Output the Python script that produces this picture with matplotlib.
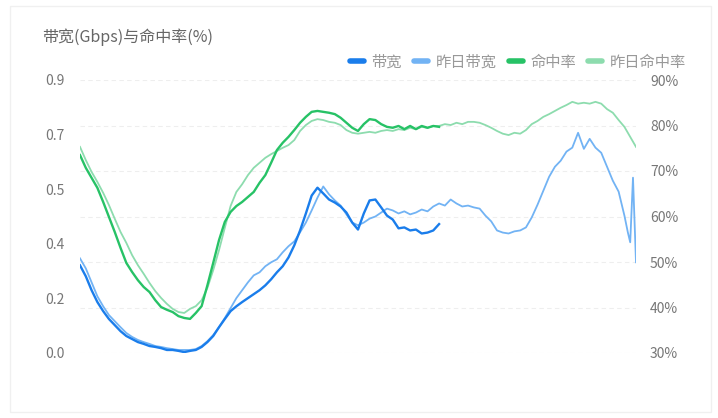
import numpy as np
import matplotlib.pyplot as plt
from matplotlib.lines import Line2D
from matplotlib.patches import Rectangle

plt.rcParams['font.family'] = ['Noto Sans CJK SC', 'DejaVu Sans']

# time of day in hours, 15 min steps
hours_today = np.arange(0, 15.51, 0.25)
hours_yest = list(np.arange(0, 23.51, 0.25)) + [23.65, 23.75, 23.87, 24.0]

# 带宽 (Gbps), today
bw_today = [0.289, 0.253, 0.207, 0.168, 0.138, 0.112, 0.092, 0.072, 0.056, 0.046,
            0.036, 0.030, 0.023, 0.020, 0.016, 0.010, 0.010, 0.007, 0.003, 0.007,
            0.010, 0.020, 0.036, 0.056, 0.085, 0.112, 0.138, 0.154, 0.168, 0.181,
            0.194, 0.207, 0.223, 0.243, 0.266, 0.286, 0.315, 0.355, 0.404, 0.460,
            0.519, 0.545, 0.526, 0.506, 0.496, 0.483, 0.463, 0.430, 0.407, 0.460,
            0.503, 0.506, 0.480, 0.453, 0.440, 0.411, 0.414, 0.404, 0.407, 0.394,
            0.397, 0.404, 0.425]

# 昨日带宽 (Gbps)
bw_yest = [0.312, 0.279, 0.233, 0.187, 0.154, 0.125, 0.105, 0.085, 0.066, 0.053,
           0.043, 0.036, 0.030, 0.023, 0.020, 0.016, 0.013, 0.010, 0.010, 0.010,
           0.013, 0.023, 0.039, 0.059, 0.085, 0.115, 0.148, 0.181, 0.207, 0.233,
           0.256, 0.266, 0.286, 0.299, 0.309, 0.332, 0.352, 0.368, 0.398, 0.430,
           0.470, 0.512, 0.549, 0.523, 0.503, 0.486, 0.457, 0.430, 0.421, 0.430,
           0.443, 0.450, 0.463, 0.476, 0.470, 0.460, 0.467, 0.457, 0.463, 0.473,
           0.467, 0.483, 0.493, 0.486, 0.506, 0.493, 0.483, 0.486, 0.480, 0.476,
           0.453, 0.434, 0.404, 0.397, 0.394, 0.401, 0.404, 0.414, 0.447, 0.489,
           0.535, 0.581, 0.614, 0.634, 0.664, 0.677, 0.726, 0.673, 0.706, 0.677,
           0.660, 0.614, 0.568, 0.532, 0.453, 0.397, 0.365, 0.578, 0.299]

# 命中率 (%), today
hit_today = [73.5, 70.7, 68.5, 66.3, 63.2, 59.9, 56.6, 53.1, 49.8, 47.8,
             46.0, 44.5, 43.4, 41.6, 40.1, 39.5, 39.0, 38.1, 37.7, 37.5,
             38.8, 40.3, 44.9, 49.8, 54.8, 58.8, 61.0, 62.3, 63.2, 64.3,
             65.4, 67.4, 69.1, 71.8, 74.6, 76.2, 77.5, 79.0, 80.6, 81.9,
             83.0, 83.2, 83.0, 82.8, 82.5, 81.7, 80.6, 79.5, 78.8, 80.3,
             81.4, 81.2, 80.3, 79.7, 79.5, 79.9, 79.2, 79.9, 79.2, 79.9,
             79.5, 79.9, 79.7]

# 昨日命中率 (%)
hit_yest = [75.3, 72.4, 69.8, 67.6, 65.2, 62.5, 59.5, 56.6, 54.2, 51.5,
            49.3, 47.4, 45.4, 43.6, 42.1, 40.8, 39.7, 39.0, 38.8, 39.7,
            40.3, 41.6, 44.3, 48.2, 52.6, 57.5, 62.3, 65.4, 67.1, 69.1,
            70.7, 71.8, 72.9, 73.7, 74.4, 75.1, 75.7, 76.8, 78.8, 80.1,
            81.0, 81.4, 81.2, 80.8, 80.6, 80.1, 79.0, 78.4, 78.2, 78.4,
            78.6, 78.4, 78.8, 79.0, 78.8, 79.2, 79.0, 79.5, 79.2, 79.7,
            79.5, 79.9, 79.9, 80.3, 80.1, 80.6, 80.3, 80.8, 80.8, 80.6,
            80.1, 79.5, 78.8, 78.2, 77.9, 78.4, 78.2, 79.0, 80.3, 81.0,
            81.9, 82.5, 83.2, 83.9, 84.5, 85.2, 84.8, 85.0, 84.8, 85.2,
            84.8, 83.6, 82.8, 81.2, 79.7, 77.5, 75.3]
hours_hit_yest = np.arange(0, 24.01, 0.25)

left_ticks = np.linspace(0, 0.9, 6)
left_labels = ['0.0', '0.2', '0.4', '0.5', '0.7', '0.9']
right_ticks = [30, 40, 50, 60, 70, 80, 90]

c_bw = '#1a7deb'
c_bw_y = '#72b3f4'
c_hit = '#27c266'
c_hit_y = '#8ddcae'

fig = plt.figure(figsize=(7.18, 4.18), dpi=100)
fig.patches.append(Rectangle((10 / 718, 6 / 418), 701 / 718, 406 / 418,
                             transform=fig.transFigure, fill=False,
                             edgecolor='#f0f0f0', linewidth=1))

ax = fig.add_axes([80 / 718, 1 - 353 / 418, 556 / 718, 273 / 418])
ax2 = ax.twinx()

ax2.plot(hours_hit_yest, hit_yest, color=c_hit_y, lw=1.3, zorder=2)
ax2.plot(hours_today, hit_today, color=c_hit, lw=1.7, zorder=3)
ax.plot(hours_yest, bw_yest, color=c_bw_y, lw=1.3, zorder=2)
ax.plot(hours_today, bw_today, color=c_bw, lw=1.7, zorder=3)

ax.set_zorder(ax2.get_zorder() + 1)
ax.patch.set_visible(False)

ax.set_xlim(0, 24)
ax.set_ylim(0, 0.9)
ax2.set_ylim(30, 90)
ax.set_xticks([])

ax.set_yticks(left_ticks)
ax.set_yticklabels(left_labels, ha='left')
ax.tick_params(axis='y', length=0, pad=25, labelsize=10, labelcolor='#777777')

ax2.set_yticks(right_ticks)
ax2.set_yticklabels([f'{t}%' for t in right_ticks])
ax2.tick_params(axis='y', length=0, pad=10, labelsize=10, labelcolor='#777777')
ax2.grid(axis='y', color='#eeeeee', linestyle=(0, (4, 3)), linewidth=0.8)

for a in (ax, ax2):
    for s in a.spines.values():
        s.set_visible(False)

fig.text(42 / 718, 1 - 37 / 418, '带宽(Gbps)与命中率(%)', fontsize=11.5,
         color='#666666', va='center', ha='left')

handles = [Line2D([], [], color=c, lw=4, solid_capstyle='round')
           for c in (c_bw, c_bw_y, c_hit, c_hit_y)]
leg = fig.legend(handles, ['带宽', '昨日带宽', '命中率', '昨日命中率'],
                 loc='center right', bbox_to_anchor=(686 / 718, 1 - 62 / 418),
                 ncol=4, frameon=False, fontsize=11, handlelength=0.9,
                 handletextpad=0.5, columnspacing=0.8, borderpad=0,
                 borderaxespad=0)
for t in leg.get_texts():
    t.set_color('#999999')

fig.savefig('out.png', dpi=100)
